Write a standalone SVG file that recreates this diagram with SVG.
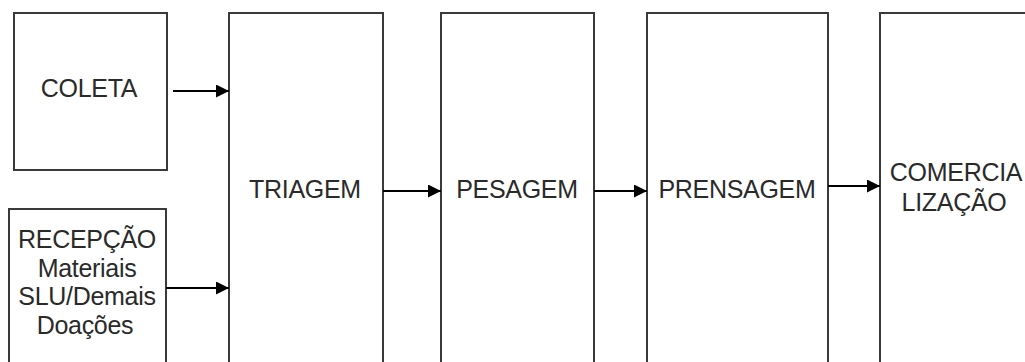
<svg xmlns="http://www.w3.org/2000/svg" width="1025" height="362" viewBox="0 0 1025 362">
<style>
.box{fill:#fff;stroke:#3a3a3a;stroke-width:2}
.lbl{font-family:"Liberation Sans",Arial,sans-serif;font-size:25px;fill:#2a2a2a;text-anchor:middle;letter-spacing:-0.3px}
.con{stroke:#000;stroke-width:2;fill:none;marker-end:url(#ah)}
</style>
<defs>
<marker id="ah" markerWidth="13" markerHeight="13" refX="13" refY="6.5" orient="auto" markerUnits="userSpaceOnUse">
<path d="M0,0 L13,6.5 L0,13 Z" fill="#000"/>
</marker>
</defs>
<rect width="1025" height="362" fill="#fff"/>
<g id="coleta"><rect class="box" x="14" y="13" width="153" height="157"/><text class="lbl" x="89" y="97">COLETA</text></g>
<g id="recepcao"><rect class="box" x="9" y="209" width="157" height="170"/>
<text class="lbl" x="87" y="248">RECEPÇÃO</text>
<text class="lbl" x="87" y="277">Materiais</text>
<text class="lbl" x="87" y="305">SLU/Demais</text>
<text class="lbl" x="85" y="334">Doações</text></g>
<g id="triagem"><rect class="box" x="229" y="13" width="154" height="370"/><text class="lbl" x="305" y="198">TRIAGEM</text></g>
<g id="pesagem"><rect class="box" x="441" y="13" width="153" height="370"/><text class="lbl" x="517" y="198">PESAGEM</text></g>
<g id="prensagem"><rect class="box" x="647" y="13" width="181" height="370"/><text class="lbl" x="737" y="198">PRENSAGEM</text></g>
<g id="comercializacao"><rect class="box" x="880" y="13" width="160" height="370"/>
<text class="lbl" x="956" y="181">COMERCIA</text>
<text class="lbl" x="954" y="211">LIZAÇÃO</text></g>
<g id="connectors">
<line class="con" x1="173" y1="91" x2="229" y2="91"/>
<line class="con" x1="166" y1="288" x2="229" y2="288"/>
<line class="con" x1="383" y1="191" x2="441" y2="191"/>
<line class="con" x1="594" y1="191" x2="647" y2="191"/>
<line class="con" x1="828" y1="186" x2="880" y2="186"/>
</g>
</svg>
